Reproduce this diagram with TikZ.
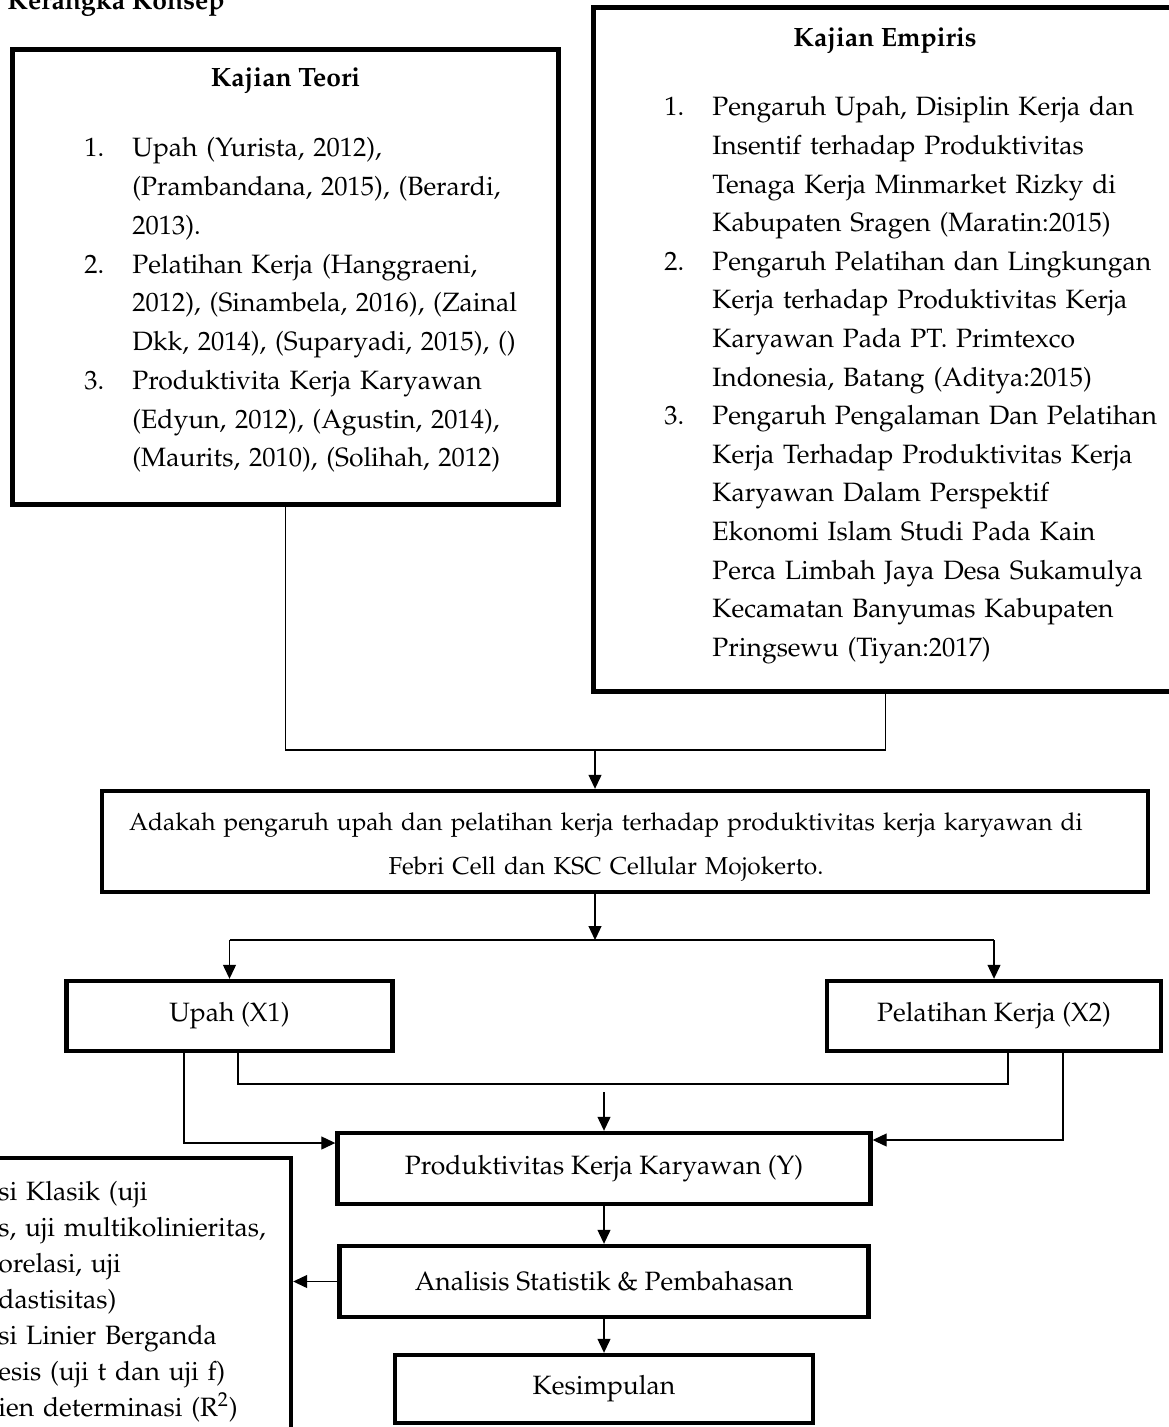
\documentclass[tikz,border=0pt]{standalone}
\usepackage[T1]{fontenc}
\usepackage{mathpazo}
\usetikzlibrary{arrows.meta}
\tikzset{
    kbox/.style={draw=black, line width=2.5pt, rectangle, inner sep=0pt},
    vbox/.style={draw=black, line width=2.2pt, rectangle, inner sep=0pt},
    head/.style={anchor=base, inner sep=0pt, font=\fontsize{13.25}{16}\selectfont\bfseries},
    list/.style={anchor=base west, inner sep=0pt, text width=260pt, align=left},
    conn/.style={line width=0.6pt},
    arr/.style={line width=0.6pt, -{Triangle[length=7pt, width=6.5pt]}}
}

\begin{document}
\begin{tikzpicture}[x=0.5pt, y=-0.5pt, font=\fontsize{13.25}{16}\selectfont]
    \useasboundingbox (0,0) rectangle (1168,1427);

    \node[anchor=base west, inner sep=0pt, font=\fontsize{13.25}{16}\selectfont\bfseries] (judul) at (7,10) {Kerangka Konsep};

    \node[kbox, minimum width=273pt, minimum height=227.5pt] (teori) at (285.5,277) {};
    \node[kbox, minimum width=291.75pt, minimum height=342pt] (empiris) at (885.25,349.5) {};
    \node[head] (teorihead) at (285.5,87) {Kajian Teori};
    \node[head] (empirishead) at (885,47) {Kajian Empiris};

    \node[list, font=\fontsize{13.25}{19.375}\selectfont] (teorilist) at (84,157) {%
        \makebox[24pt][l]{1.}Upah (Yurista, 2012),\\
        \hspace*{24pt}(Prambandana, 2015), (Berardi,\\
        \hspace*{24pt}2013).\\
        \makebox[24pt][l]{2.}Pelatihan Kerja (Hanggraeni,\\
        \hspace*{24pt}2012), (Sinambela, 2016), (Zainal\\
        \hspace*{24pt}Dkk, 2014), (Suparyadi, 2015), ()\\
        \makebox[24pt][l]{3.}Produktivita Kerja Karyawan\\
        \hspace*{24pt}(Edyun, 2012), (Agustin, 2014),\\
        \hspace*{24pt}(Maurits, 2010), (Solihah, 2012)};

    \node[list, font=\fontsize{13.25}{19.3}\selectfont] (empirislist) at (664,116) {%
        \makebox[24pt][l]{1.}Pengaruh Upah, Disiplin Kerja dan\\
        \hspace*{24pt}Insentif terhadap Produktivitas\\
        \hspace*{24pt}Tenaga Kerja Minmarket Rizky di\\
        \hspace*{24pt}Kabupaten Sragen (Maratin:2015)\\
        \makebox[24pt][l]{2.}Pengaruh Pelatihan dan Lingkungan\\
        \hspace*{24pt}Kerja terhadap Produktivitas Kerja\\
        \hspace*{24pt}Karyawan Pada PT. Primtexco\\
        \hspace*{24pt}Indonesia, Batang (Aditya:2015)\\
        \makebox[24pt][l]{3.}Pengaruh Pengalaman Dan Pelatihan\\
        \hspace*{24pt}Kerja Terhadap Produktivitas Kerja\\
        \hspace*{24pt}Karyawan Dalam Perspektif\\
        \hspace*{24pt}Ekonomi Islam Studi Pada Kain\\
        \hspace*{24pt}Perca Limbah Jaya Desa Sukamulya\\
        \hspace*{24pt}Kecamatan Banyumas Kabupaten\\
        \hspace*{24pt}Pringsewu (Tiyan:2017)};

    \node[vbox, minimum width=523pt, minimum height=50.5pt] (tanya) at (625,841.5) {};
    \node[anchor=base, inner sep=0pt, text width=523pt, align=center, font=\fontsize{12.25}{22}\selectfont] (tanyatxt) at (606,830) {Adakah pengaruh upah dan pelatihan kerja terhadap produktivitas kerja karyawan di\\Febri Cell dan KSC Cellular Mojokerto.};

    \node[vbox, minimum width=163pt, minimum height=35pt] (upah) at (229.5,1016) {Upah (X1)};
    \node[vbox, minimum width=167pt, minimum height=35pt] (pelatihan) at (994,1016) {Pelatihan Kerja (X2)};
    \node[vbox, minimum width=266.5pt, minimum height=35.5pt] (prod) at (604,1168.5) {Produktivitas Kerja Karyawan (Y)};
    \node[vbox, minimum width=264.5pt, minimum height=35.5pt] (anal) at (604,1281.5) {Analisis Statistik \& Pembahasan};
    \node[vbox, minimum width=209pt, minimum height=34pt] (kes) at (604,1389) {Kesimpulan};

    \node[vbox, minimum width=295.5pt, minimum height=171pt] (uji) at (-4.5,1329) {};
    \node[list, font=\fontsize{13.25}{18}\selectfont] (ujilist) at (-2,1200) {%
        si Klasik (uji\\
        s, uji multikolinieritas,\\
        orelasi, uji\\
        dastisitas)\\
        si Linier Berganda\\
        esis (uji t dan uji f)\\
        ien determinasi (R\textsuperscript{2})};

    \coordinate (t1) at (595,750);
    \coordinate (t2) at (595,940);
    \coordinate (t3) at (604,1092);
    \coordinate (kiri) at (184,1143);
    \coordinate (tengah1) at (238,1084);
    \coordinate (tengah2) at (1008,1084);
    \coordinate (kanan) at (1063,1140);

    \draw[conn] (teori.south) -- (teori.south |- t1) -- (empiris.south |- t1) -- (empiris.south);
    \draw[arr] (t1) -- (tanya.north -| t1);
    \draw[arr] (tanya.south -| t2) -- (t2);
    \draw[conn] (upah.north |- t2) -- (pelatihan.north |- t2);
    \draw[arr] (upah.north |- t2) -- (upah.north);
    \draw[arr] (pelatihan.north |- t2) -- (pelatihan.north);

    \draw[arr] (upah.south -| kiri) -- (kiri) -- (kiri -| prod.west);
    \draw[conn] (upah.south -| tengah1) -- (tengah1) -- (tengah2) -- (pelatihan.south -| tengah2);
    \draw[arr] (pelatihan.south -| kanan) -- (kanan) -- (kanan -| prod.east);
    \draw[arr] (t3) -- (prod.north -| t3);
    \draw[arr] (prod.south) -- (anal.north);
    \draw[arr] (anal.west) -- (anal.west -| uji.east);
    \draw[arr] (anal.south) -- (kes.north);
\end{tikzpicture}
\end{document}
